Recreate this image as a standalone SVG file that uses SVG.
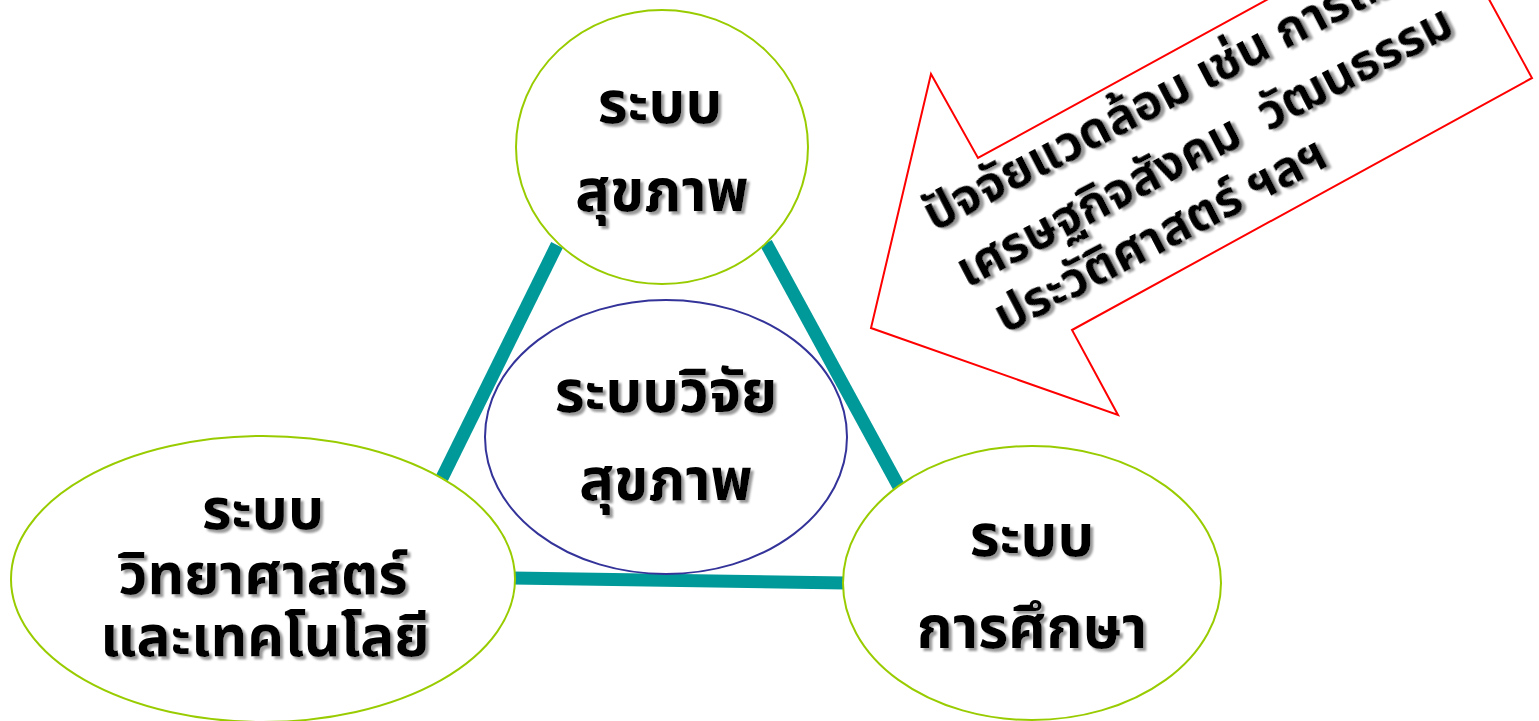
<svg xmlns="http://www.w3.org/2000/svg" width="1539" height="721" viewBox="0 0 1539 721">
<defs>
<filter id="sh" x="-10%" y="-20%" width="130%" height="150%">
<feDropShadow dx="3" dy="3" stdDeviation="0.8" flood-color="#999999" flood-opacity="1"/>
</filter>
</defs>
<style>
.lbl{font-family:'Noto Sans Thai','Noto Sans','DejaVu Sans',sans-serif;font-weight:bold;fill:#000;text-anchor:middle;filter:url(#sh)}
.atx{font-family:'Noto Sans Thai','Noto Sans','DejaVu Sans',sans-serif;font-weight:bold;fill:#000;filter:url(#sh);white-space:pre}
.node{fill:#fff;stroke:#99cc00;stroke-width:2}
.conn{stroke:#009999;stroke-width:13;fill:none}
</style>
<rect width="1539" height="721" fill="#fff"/>
<g id="connectors">
<line class="conn" x1="557" y1="245" x2="442" y2="478"/>
<line class="conn" x1="766" y1="243" x2="899" y2="487"/>
<line class="conn" x1="512" y1="578" x2="846" y2="583"/>
</g>
<g id="node-health">
<ellipse class="node" cx="662" cy="147" rx="146" ry="137"/>
<text class="lbl" x="660" y="123" font-size="58">ระบบ</text>
<text class="lbl" x="662" y="211" font-size="58">สุขภาพ</text>
</g>
<g id="node-research">
<ellipse cx="666" cy="437" rx="181" ry="137" fill="#fff" stroke="#333399" stroke-width="2"/>
<text class="lbl" x="666" y="412" font-size="58">ระบบวิจัย</text>
<text class="lbl" x="666" y="500" font-size="58">สุขภาพ</text>
</g>
<g id="node-science">
<ellipse class="node" cx="263" cy="579" rx="252" ry="143"/>
<text class="lbl" x="263" y="529" font-size="57">ระบบ</text>
<text class="lbl" x="263" y="594" font-size="57">วิทยาศาสตร์</text>
<text class="lbl" x="265" y="656" font-size="57">และเทคโนโลยี</text>
</g>
<g id="node-education">
<ellipse class="node" cx="1032" cy="583" rx="189" ry="137"/>
<text class="lbl" x="1032" y="556" font-size="58">ระบบ</text>
<text class="lbl" x="1032" y="648" font-size="58">การศึกษา</text>
</g>
<g id="node-environment">
<polygon points="931,74 978,158 1438,-94 1532,78 1072,330 1118,415 871,328" fill="#fff" stroke="#ff0000" stroke-width="2"/>
<text class="atx" font-size="49" transform="translate(934,232) rotate(-27.5)">ปัจจัยแวดล้อม เช่น การเมือง</text>
<text class="atx" font-size="49" transform="translate(967,288) rotate(-27.5)">เศรษฐกิจสังคม  วัฒนธรรม</text>
<text class="atx" font-size="49" transform="translate(1005,334) rotate(-27.5)">ประวัติศาสตร์ ฯลฯ</text>
</g>
</svg>
